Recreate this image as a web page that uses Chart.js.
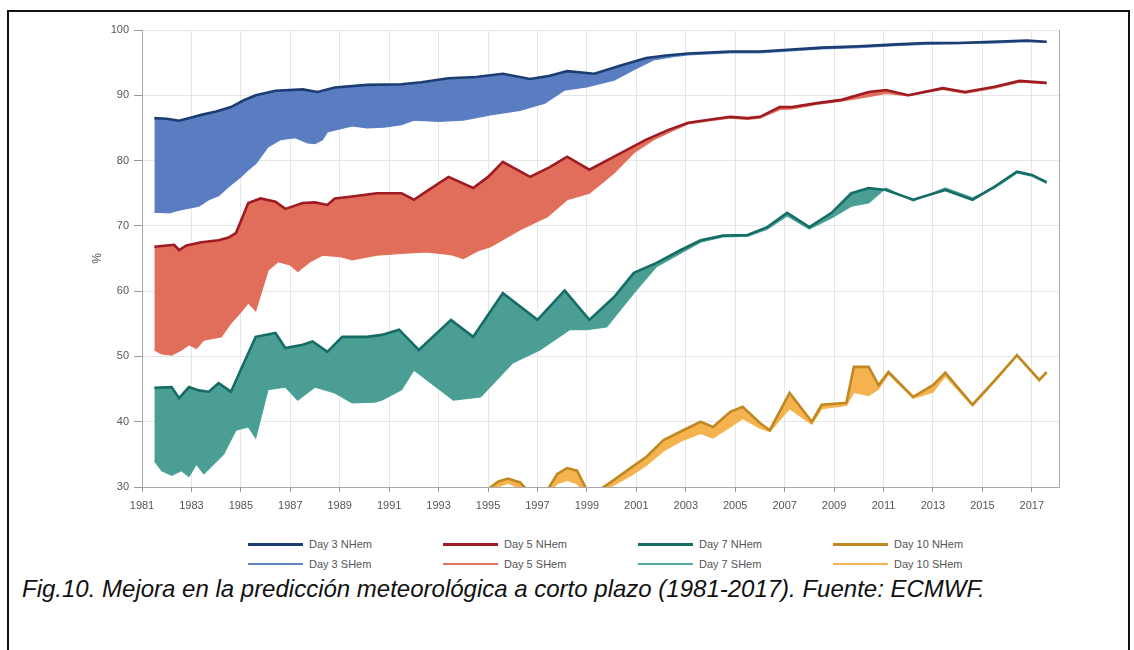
<!DOCTYPE html>
<html lang="es">
<head>
<meta charset="UTF-8">
<title>Mejora en la predicción meteorológica (1981-2017)</title>
<script src="https://cdn.jsdelivr.net/npm/chart.js"></script>
<style>
  body { margin: 0; background: #fff; font-family: "Liberation Sans", Arial, sans-serif; }
  .frame { position: absolute; left: 7px; top: 10px; width: 1123px; height: 700px; border: 2px solid #111; box-sizing: border-box; }
  .plot { position: absolute; left: 90px; top: 0; }
  #legend { position: absolute; left: 248px; top: 537px; display: grid; grid-template-columns: repeat(4, 195px); row-gap: 6px; font-size: 11px; color: #555; }
  #legend .item { display: flex; align-items: center; height: 14px; }
  #legend .swatch { width: 55px; margin-right: 6px; }
  .caption { position: absolute; left: 22px; top: 575px; font-size: 24px; font-style: italic; color: #111; white-space: nowrap; }
</style>
</head>
<body>
<div class="frame"></div>
<div class="plot"><canvas id="chart" width="1044" height="520"></canvas></div>
<div id="legend"></div>
<div class="caption">Fig.10. Mejora en la predicción meteorológica a corto plazo (1981-2017). Fuente: ECMWF.</div>

<script>
// anomaly correlation of 500 hPa height forecasts, 12-month running mean, [year, %]
const day3N = [[1981.5,86.5],[1982.0,86.4],[1982.5,86.1],[1983.0,86.6],[1983.4,87.0],[1984.0,87.5],[1984.6,88.2],[1985.1,89.2],[1985.6,90.0],[1986.4,90.7],[1987.5,90.9],[1988.1,90.5],[1988.8,91.2],[1990.1,91.6],[1991.5,91.7],[1992.3,92.0],[1993.4,92.6],[1994.5,92.8],[1995.6,93.3],[1996.7,92.5],[1997.5,93.0],[1998.2,93.7],[1999.3,93.3],[2000.4,94.6],[2001.4,95.7],[2002.2,96.1],[2003.1,96.4],[2004.8,96.7],[2006.0,96.7],[2006.8,96.9],[2008.5,97.3],[2010.0,97.5],[2011.5,97.8],[2012.7,98.0],[2014.0,98.0],[2015.4,98.2],[2016.8,98.4],[2017.6,98.2]];
const day3S = [[1981.5,72.1],[1982.1,72.0],[1982.5,72.4],[1982.9,72.7],[1983.3,73.0],[1983.7,74.0],[1984.1,74.6],[1984.5,76.0],[1985.0,77.5],[1985.3,78.6],[1985.6,79.5],[1986.1,82.1],[1986.6,83.2],[1987.2,83.5],[1987.7,82.7],[1988.0,82.6],[1988.3,83.2],[1988.5,84.4],[1989.5,85.3],[1990.1,85.0],[1990.8,85.1],[1991.5,85.5],[1992.0,86.2],[1993.0,86.0],[1994.0,86.2],[1995.1,87.0],[1996.3,87.7],[1997.3,88.8],[1998.1,90.8],[1999.0,91.3],[2000.1,92.3],[2000.9,93.9],[2001.7,95.4],[2002.5,95.9],[2003.1,96.2],[2004.8,96.5],[2006.0,96.5],[2006.8,96.7],[2008.5,97.1],[2010.0,97.3],[2011.5,97.6],[2012.7,97.8],[2014.0,97.9],[2015.4,98.0],[2016.8,98.2],[2017.6,98.1]];

const day5N = [[1981.5,66.8],[1982.0,67.0],[1982.3,67.1],[1982.5,66.3],[1982.8,67.0],[1983.4,67.5],[1984.1,67.8],[1984.5,68.2],[1984.8,68.9],[1985.3,73.5],[1985.8,74.2],[1986.4,73.7],[1986.8,72.6],[1987.5,73.5],[1988.0,73.6],[1988.5,73.2],[1988.8,74.2],[1989.5,74.5],[1990.5,75.0],[1991.5,75.0],[1992.0,74.0],[1992.6,75.5],[1993.4,77.5],[1994.4,75.8],[1995.0,77.5],[1995.6,79.8],[1996.7,77.5],[1997.5,79.0],[1998.2,80.6],[1999.1,78.6],[2000.1,80.6],[2001.4,83.2],[2002.3,84.7],[2003.1,85.8],[2004.0,86.3],[2004.8,86.7],[2005.5,86.5],[2006.0,86.7],[2006.8,88.2],[2007.3,88.2],[2008.3,88.8],[2009.3,89.3],[2010.4,90.5],[2011.1,90.8],[2012.0,90.0],[2013.4,91.1],[2014.3,90.5],[2015.5,91.3],[2016.5,92.2],[2017.6,91.9]];
const day5S = [[1981.5,51.0],[1981.8,50.4],[1982.2,50.2],[1982.6,51.0],[1982.9,51.8],[1983.2,51.2],[1983.5,52.5],[1984.2,53.0],[1984.6,55.1],[1985.0,56.8],[1985.3,58.2],[1985.6,57.0],[1986.1,63.2],[1986.5,64.5],[1987.0,64.0],[1987.3,63.0],[1987.8,64.5],[1988.3,65.5],[1989.0,65.3],[1989.5,64.8],[1990.5,65.5],[1991.5,65.8],[1992.5,66.0],[1993.5,65.6],[1994.0,65.0],[1994.6,66.2],[1995.1,66.8],[1996.3,69.4],[1997.4,71.4],[1998.2,74.0],[1999.1,75.0],[2000.1,78.1],[2000.9,81.2],[2001.7,83.2],[2002.5,84.6],[2003.1,85.6],[2004.0,86.1],[2004.8,86.5],[2005.5,86.3],[2006.0,86.5],[2006.8,87.8],[2007.3,87.9],[2008.3,88.6],[2009.3,89.1],[2010.4,89.8],[2011.1,90.3],[2012.0,89.9],[2013.4,90.9],[2014.3,90.3],[2015.5,91.1],[2016.5,92.0],[2017.6,91.8]];

const day7N = [[1981.5,45.2],[1982.2,45.3],[1982.5,43.6],[1982.9,45.3],[1983.3,44.8],[1983.7,44.6],[1984.1,45.9],[1984.6,44.6],[1985.0,48.0],[1985.6,53.0],[1986.4,53.6],[1986.8,51.3],[1987.5,51.8],[1987.9,52.3],[1988.5,50.7],[1989.1,53.0],[1990.1,53.0],[1990.7,53.3],[1991.4,54.1],[1992.2,51.0],[1993.5,55.6],[1994.4,53.0],[1995.6,59.7],[1997.0,55.6],[1998.1,60.1],[1999.1,55.6],[2000.1,59.1],[2000.9,62.8],[2001.8,64.3],[2002.8,66.3],[2003.6,67.8],[2004.5,68.5],[2005.5,68.6],[2006.3,69.8],[2007.1,72.0],[2008.0,69.8],[2008.9,72.0],[2009.7,75.0],[2010.4,75.8],[2011.1,75.5],[2012.2,74.0],[2013.5,75.5],[2014.6,74.0],[2015.5,76.0],[2016.4,78.3],[2017.0,77.8],[2017.6,76.7]];
const day7S = [[1981.5,34.0],[1981.8,32.5],[1982.2,31.8],[1982.6,32.5],[1982.9,31.6],[1983.2,33.5],[1983.5,32.0],[1983.9,33.5],[1984.3,35.0],[1984.8,38.7],[1985.3,39.2],[1985.6,37.5],[1986.1,44.9],[1986.8,45.3],[1987.3,43.3],[1988.0,45.3],[1988.8,44.4],[1989.5,42.9],[1990.4,43.0],[1990.7,43.3],[1991.5,44.9],[1992.0,47.9],[1993.6,43.3],[1994.7,43.8],[1996.0,49.0],[1997.1,51.0],[1998.3,54.1],[1999.0,54.1],[1999.8,54.5],[2000.9,59.7],[2001.8,63.7],[2002.8,65.8],[2003.6,67.5],[2004.5,68.3],[2005.5,68.4],[2006.3,69.5],[2007.1,71.5],[2008.0,69.5],[2008.9,71.2],[2009.7,73.0],[2010.4,73.5],[2011.1,75.8],[2012.2,73.8],[2013.5,75.8],[2014.6,74.3],[2015.5,75.8],[2016.4,78.1],[2017.0,77.6],[2017.6,76.5]];

const day10N = [[1994.6,28.5],[1995.4,30.8],[1995.8,31.3],[1996.3,30.7],[1996.7,29.0],[1997.4,29.5],[1997.8,32.0],[1998.2,32.9],[1998.6,32.5],[1999.0,29.5],[1999.6,29.8],[2000.1,31.1],[2000.8,33.0],[2001.4,34.6],[2002.1,37.2],[2002.8,38.5],[2003.6,40.0],[2004.1,39.2],[2004.8,41.5],[2005.3,42.3],[2006.0,39.8],[2006.4,38.7],[2007.2,44.4],[2008.1,40.0],[2008.5,42.6],[2009.5,42.9],[2009.8,48.4],[2010.4,48.4],[2010.8,45.6],[2011.2,47.6],[2012.2,43.8],[2013.0,45.6],[2013.5,47.5],[2014.6,42.6],[2015.4,45.9],[2016.4,50.2],[2017.3,46.4],[2017.6,47.6]];
const day10S = [[1994.6,28.0],[1995.4,30.0],[1995.8,30.6],[1996.3,29.8],[1996.7,28.5],[1997.4,29.0],[1997.8,30.5],[1998.2,31.0],[1998.6,30.5],[1999.0,28.8],[1999.6,29.3],[2000.1,30.3],[2000.8,31.8],[2001.4,33.3],[2002.1,35.5],[2002.8,37.0],[2003.6,38.2],[2004.1,37.5],[2004.8,39.2],[2005.3,40.5],[2006.0,39.0],[2006.4,38.5],[2007.2,42.0],[2008.1,39.6],[2008.5,42.0],[2009.5,42.5],[2009.8,44.5],[2010.4,44.0],[2010.8,45.0],[2011.2,47.3],[2012.2,43.6],[2013.0,44.5],[2013.5,47.0],[2014.6,42.4],[2015.4,45.7],[2016.4,50.0],[2017.3,46.2],[2017.6,47.4]];

const yearTicks = [1981, 1983, 1985, 1987, 1989, 1991, 1993, 1995, 1997, 1999, 2001, 2003, 2005, 2007, 2009, 2011, 2013, 2015, 2017];
const pctTicks = [30, 40, 50, 60, 70, 80, 90, 100];

const nhem = [
  { label: 'Day 3 NHem', data: day3N, line: '#1c3d72', band: '#5a7dc2' },
  { label: 'Day 5 NHem', data: day5N, line: '#9e1b22', band: '#e06e5a' },
  { label: 'Day 7 NHem', data: day7N, line: '#156d66', band: '#4a9e93' },
  { label: 'Day 10 NHem', data: day10N, line: '#bf8820', band: '#f5b34f' }
];
const shem = [
  { label: 'Day 3 SHem', data: day3S, line: '#5f84c8' },
  { label: 'Day 5 SHem', data: day5S, line: '#e2735f' },
  { label: 'Day 7 SHem', data: day7S, line: '#52aaa0' },
  { label: 'Day 10 SHem', data: day10S, line: '#f4b650' }
];

// NHem lines carry the band fill down (or up) to the matching SHem line, 4 datasets further on
const datasets = [
  ...nhem.map(s => ({
    label: s.label, data: s.data, borderColor: s.line, backgroundColor: s.band,
    borderWidth: 2.6, pointRadius: 0, tension: 0, fill: '+4'
  })),
  ...shem.map(s => ({
    label: s.label, data: s.data, borderColor: s.line, backgroundColor: s.line,
    borderWidth: 1.2, pointRadius: 0, tension: 0, fill: false
  }))
];

// thin frame on the right side of the plot
const plotFrame = {
  id: 'plotFrame',
  afterDraw(chart) {
    const { ctx, chartArea } = chart;
    ctx.save();
    ctx.strokeStyle = '#a8a8a8';
    ctx.lineWidth = 1;
    ctx.beginPath();
    ctx.moveTo(Math.round(chartArea.right) + 0.5, chartArea.top);
    ctx.lineTo(Math.round(chartArea.right) + 0.5, chartArea.bottom);
    ctx.stroke();
    ctx.restore();
  }
};

const tickFont = { family: '"Liberation Sans", Arial, sans-serif', size: 11 };

const chart = new Chart(document.getElementById('chart'), {
  type: 'line',
  data: { datasets },
  options: {
    responsive: false,
    animation: false,
    events: [],
    layout: { padding: { top: 30, right: 75, bottom: 0, left: 0 } },
    plugins: { legend: { display: false }, tooltip: { enabled: false } },
    scales: {
      x: {
        type: 'linear', min: 1981, max: 2018.1,
        afterBuildTicks: scale => { scale.ticks = yearTicks.map(v => ({ value: v })); },
        afterFit: scale => { scale.height = 33; },
        ticks: { font: tickFont, color: '#555', padding: 7, maxRotation: 0, autoSkip: false, callback: v => String(v) },
        grid: { color: '#e6e6e6', tickColor: '#999', tickLength: 5 },
        border: { color: '#a8a8a8' }
      },
      y: {
        min: 30, max: 100,
        afterBuildTicks: scale => { scale.ticks = pctTicks.map(v => ({ value: v })); },
        afterFit: scale => { scale.width = 52; },
        title: { display: true, text: '%', font: { ...tickFont, size: 12 }, color: '#555', padding: 0 },
        ticks: { font: tickFont, color: '#555', padding: 5 },
        grid: { color: '#e6e6e6', tickColor: '#999', tickLength: 8 },
        border: { color: '#a8a8a8' }
      }
    }
  },
  plugins: [plotFrame]
});

// two-row legend: NHem on top, SHem below
const legendEl = document.getElementById('legend');
chart.data.datasets.forEach(ds => {
  const item = document.createElement('div');
  item.className = 'item';
  const sw = document.createElement('span');
  sw.className = 'swatch';
  sw.style.height = ds.borderWidth > 2 ? '3px' : '1.5px';
  sw.style.background = ds.borderColor;
  const txt = document.createElement('span');
  txt.textContent = ds.label;
  item.append(sw, txt);
  legendEl.append(item);
});
</script>
</body>
</html>
